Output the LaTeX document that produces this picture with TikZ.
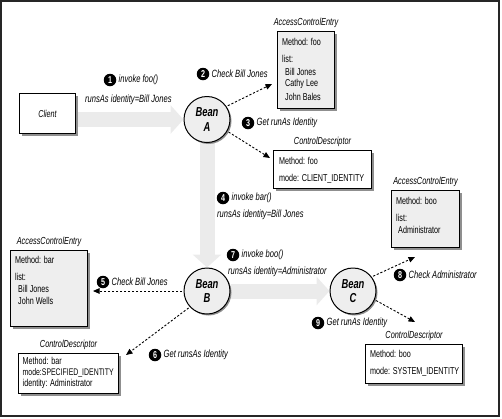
\documentclass[tikz,border=0pt]{standalone}
\usepackage{fontspec}
\setmainfont{Liberation Sans}[FakeStretch=0.72]
\usetikzlibrary{arrows.meta,shadows,calc}
\definecolor{arrowgray}{HTML}{EBEBEB}
\definecolor{boxgray}{HTML}{EEEEEE}
\definecolor{shadowgray}{HTML}{8F8F8F}
\pgfdeclarelayer{background}
\pgfsetlayers{background,main}
\begin{document}
\begin{tikzpicture}[x=1pt,y=-1pt,
  frame/.style={draw=black!85, line width=1.3pt},
  bigarrow/.style={draw=arrowgray, line width=15pt, -{Triangle[length=13pt,width=28pt]}},
  bean/.style={circle, draw=black, line width=1pt, fill=boxgray, minimum size=46pt, inner sep=0pt, align=center,
    font=\fontsize{13}{14.5}\selectfont\bfseries\itshape,
    drop shadow={shadow xshift=1.5pt, shadow yshift=-1.5pt, fill=shadowgray, opacity=1}},
  box/.style={draw=black, line width=1.1pt, inner sep=0pt, anchor=north west,
    drop shadow={shadow xshift=2.5pt, shadow yshift=-2.5pt, fill=shadowgray, opacity=1}},
  acebox/.style={box, fill=boxgray},
  cdbox/.style={box, fill=white},
  num/.style={circle, fill=black, text=white, inner sep=0pt, minimum size=12.5pt, font=\fontsize{10}{10}\selectfont\bfseries},
  lbl/.style={anchor=west, inner sep=0pt, font=\fontsize{10.5}{11}\selectfont\itshape},
  ttl/.style={inner sep=0pt, anchor=south, font=\fontsize{10.2}{11}\selectfont\itshape},
  txt/.style={anchor=west, inner sep=0pt, font=\fontsize{10}{11}\selectfont},
  dasharrow/.style={draw=black, line width=0.9pt, dash pattern=on 2.2pt off 1.8pt, shorten <=1.5pt,
    -{Triangle[length=6.5pt,width=5.5pt]}}
]
\useasboundingbox (0,0) rectangle (502,418);
\draw[frame] (1,1) rectangle (499,416);

% client and beans
\node[box, fill=white, minimum width=56pt, minimum height=40pt, anchor=north west,
  font=\fontsize{10}{11}\selectfont\itshape] (client) at (19,93) {Client};
\node[bean] (beanA) at (207,119.5) {Bean\\A};
\node[bean] (beanB) at (207,291) {Bean\\B};
\node[bean] (beanC) at (353,291) {Bean\\C};

\begin{pgfonlayer}{background}
\draw[bigarrow] (client.east |- beanA.center) -- (beanA.west);
\draw[bigarrow] (beanA.south) -- (beanB.north);
\draw[bigarrow] (beanB.east) -- (beanC.west);
\end{pgfonlayer}

% AccessControlEntry (foo)
\node[acebox, minimum width=57pt, minimum height=77pt] (ace1) at (277,31) {};
\node[ttl] (ace1t) at ([yshift=3pt]ace1.north) {AccessControlEntry};
\node[txt] (ace1a) at ($(ace1.north west)+(5,11)$) {Method: foo};
\node[txt] (ace1b) at ($(ace1.north west)+(5,28)$) {list:};
\node[txt] (ace1c) at ($(ace1.north west)+(8,41)$) {Bill Jones};
\node[txt] (ace1d) at ($(ace1.north west)+(8,53)$) {Cathy Lee};
\node[txt] (ace1e) at ($(ace1.north west)+(8,66)$) {John Bales};

% ControlDescriptor (foo)
\node[cdbox, minimum width=98pt, minimum height=38pt] (cd1) at (273,150) {};
\node[ttl] (cd1t) at ([yshift=3pt]cd1.north) {ControlDescriptor};
\node[txt] (cd1a) at ($(cd1.north west)+(6,11)$) {Method: foo};
\node[txt] (cd1b) at ($(cd1.north west)+(6,29)$) {mode: CLIENT\_IDENTITY};

% AccessControlEntry (boo)
\node[acebox, minimum width=68pt, minimum height=57pt] (ace2) at (391,190) {};
\node[ttl] (ace2t) at ([yshift=3pt]ace2.north) {AccessControlEntry};
\node[txt] (ace2a) at ($(ace2.north west)+(5,11)$) {Method: boo};
\node[txt] (ace2b) at ($(ace2.north west)+(5,28)$) {list:};
\node[txt] (ace2c) at ($(ace2.north west)+(7,40)$) {Administrator};

% ControlDescriptor (boo)
\node[cdbox, minimum width=97pt, minimum height=39pt] (cd2) at (365,344) {};
\node[ttl] (cd2t) at ([yshift=3pt]cd2.north) {ControlDescriptor};
\node[txt] (cd2a) at ($(cd2.north west)+(5,10)$) {Method: boo};
\node[txt] (cd2b) at ($(cd2.north west)+(5,28)$) {mode: SYSTEM\_IDENTITY};

% AccessControlEntry (bar)
\node[acebox, minimum width=77pt, minimum height=76pt] (ace3) at (10,250) {};
\node[ttl] (ace3t) at ([yshift=3pt]ace3.north) {AccessControlEntry};
\node[txt] (ace3a) at ($(ace3.north west)+(5,10)$) {Method: bar};
\node[txt] (ace3b) at ($(ace3.north west)+(5,27)$) {list:};
\node[txt] (ace3c) at ($(ace3.north west)+(8,39)$) {Bill Jones};
\node[txt] (ace3d) at ($(ace3.north west)+(8,51)$) {John Wells};

% ControlDescriptor (bar)
\node[cdbox, minimum width=100pt, minimum height=40pt] (cd3) at (18,353) {};
\node[ttl] (cd3t) at ([yshift=3pt]cd3.north) {ControlDescriptor};
\node[txt] (cd3a) at ($(cd3.north west)+(4.5,8)$) {Method: bar};
\node[txt, font=\fontsize{9.6}{11}\selectfont] (cd3b) at ($(cd3.north west)+(4.5,19.5)$) {mode:SPECIFIED\_IDENTITY};
\node[txt] (cd3c) at ($(cd3.north west)+(4.5,31)$) {identity: Administrator};

% dashed connectors
\coordinate (t2) at (272,84);
\coordinate (t3) at (270,158);
\coordinate (t5) at (93,291);
\coordinate (t6) at (126,355);
\coordinate (t8) at (415,257);
\coordinate (t9) at (415,322);
\draw[dasharrow] (beanA.34) -- (t2);
\draw[dasharrow] (beanA.-30) -- (t3);
\draw[dasharrow] (beanB.west) -- (t5);
\draw[dasharrow] (beanB.-137) -- (t6);
\draw[dasharrow] (beanC.37) -- (t8);
\draw[dasharrow] (beanC.-22) -- (t9);

% step labels
\node[num] (n1) at (110,80) {1};
\node[lbl] (l1) at (118.5,80) {invoke foo()};
\node[lbl] (l1b) at (85,100) {runsAs identity=Bill Jones};
\node[num] (n2) at (203,74) {2};
\node[lbl] (l2) at (211.5,74) {Check Bill Jones};
\node[num] (n3) at (248,123) {3};
\node[lbl] (l3) at (256.5,123) {Get runAs Identity};
\node[num] (n4) at (223,198) {4};
\node[lbl] (l4) at (231.5,198) {invoke bar()};
\node[lbl] (l4b) at (217,215) {runsAs identity=Bill Jones};
\node[num] (n5) at (103,282) {5};
\node[lbl] (l5) at (111.5,282) {Check Bill Jones};
\node[num] (n6) at (155,355) {6};
\node[lbl] (l6) at (163.5,355) {Get runsAs Identity};
\node[num] (n7) at (233,255) {7};
\node[lbl] (l7) at (241.5,255) {invoke boo()};
\node[lbl] (l7b) at (228,272) {runsAs identity=Administrator};
\node[num] (n8) at (400,275) {8};
\node[lbl] (l8) at (408.5,275) {Check Administrator};
\node[num] (n9) at (318,323) {9};
\node[lbl] (l9) at (326.5,323) {Get runAs Identity};
\end{tikzpicture}
\end{document}
